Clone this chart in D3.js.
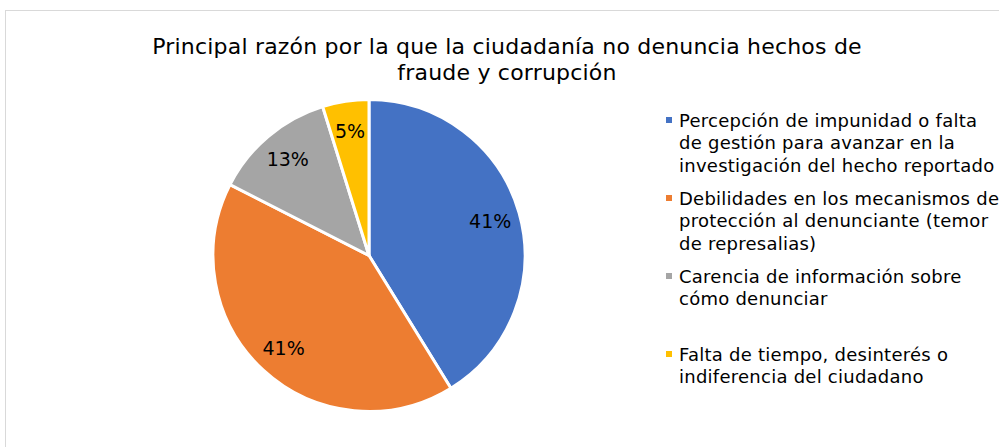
<!DOCTYPE html>
<html lang="es">
<head>
<meta charset="UTF-8">
<title>Pie</title>
<script src="https://d3js.org/d3.v7.min.js"></script>
<style>
  body { margin: 0; background: #fff; }
  text { font-family: "DejaVu Sans", Verdana, sans-serif; fill: #000; }
</style>
</head>
<body>
<div id="chart"></div>
<script>
    var width = 999, height = 447;

    // data (percent)
    var categories = [
        ["Percepción de impunidad o falta", "de gestión para avanzar en la", "investigación del hecho reportado"],
        ["Debilidades en los mecanismos de", "protección al denunciante (temor", "de represalias)"],
        ["Carencia de información sobre", "cómo denunciar"],
        ["Falta de tiempo, desinterés o", "indiferencia del ciudadano"]
    ];
    var values = [41.2, 41.3, 12.7, 4.8];
    var colors = ["#4472C4", "#ED7D31", "#A5A5A5", "#FFC000"];
    var titleLines = ["Principal razón por la que la ciudadanía no denuncia hechos de", "fraude y corrupción"];

    var svg = d3.select("#chart").append("svg")
        .attr("width", width)
        .attr("height", height);

    // chart frame
    svg.append("rect")
        .attr("x", 5.5).attr("y", 10.5)
        .attr("width", 1100).attr("height", 600)
        .attr("fill", "#fff")
        .attr("stroke", "#d9d9d9").attr("stroke-width", 1);

    // title
    svg.append("g").selectAll("text")
        .data(titleLines)
        .enter().append("text")
        .attr("x", 507)
        .attr("y", function(d, i) { return 54 + i * 26; })
        .attr("text-anchor", "middle")
        .style("font-size", "22px")
        .style("letter-spacing", "0.2px")
        .text(function(d) { return d; });

    // pie
    var cx = 369, cy = 255.5, r = 156;
    var pie = d3.pie().sort(null).value(function(d) { return d; });
    var arc = d3.arc().innerRadius(0).outerRadius(r);
    var labelArc = d3.arc().innerRadius(126).outerRadius(126);

    var g = svg.append("g").attr("transform", "translate(" + cx + "," + cy + ")");
    var arcs = pie(values);

    g.selectAll("path")
        .data(arcs)
        .enter().append("path")
        .attr("d", arc)
        .attr("fill", function(d, i) { return colors[i]; })
        .attr("stroke", "#fff")
        .attr("stroke-width", 3)
        .attr("stroke-linejoin", "round");

    g.selectAll("text.lbl")
        .data(arcs)
        .enter().append("text")
        .attr("class", "lbl")
        .attr("transform", function(d) { return "translate(" + labelArc.centroid(d) + ")"; })
        .attr("text-anchor", "middle")
        .attr("dy", "0.36em")
        .style("font-size", "19px")
        .text(function(d) { return Math.round(d.value) + "%"; });

    // legend
    var legend = svg.append("g");
    var items = legend.selectAll("g")
        .data(categories)
        .enter().append("g")
        .attr("transform", function(d, i) { return "translate(666," + (127 + i * 78) + ")"; });

    items.append("rect")
        .attr("x", 0).attr("y", -10)
        .attr("width", 6).attr("height", 6)
        .attr("fill", function(d, i) { return colors[i]; });

    items.selectAll("text")
        .data(function(d) { return d; })
        .enter().append("text")
        .attr("x", 13)
        .attr("y", function(d, i) { return i * 22.3; })
        .style("font-size", "18px")
        .style("letter-spacing", "0.25px")
        .text(function(d) { return d; });
</script>
</body>
</html>
